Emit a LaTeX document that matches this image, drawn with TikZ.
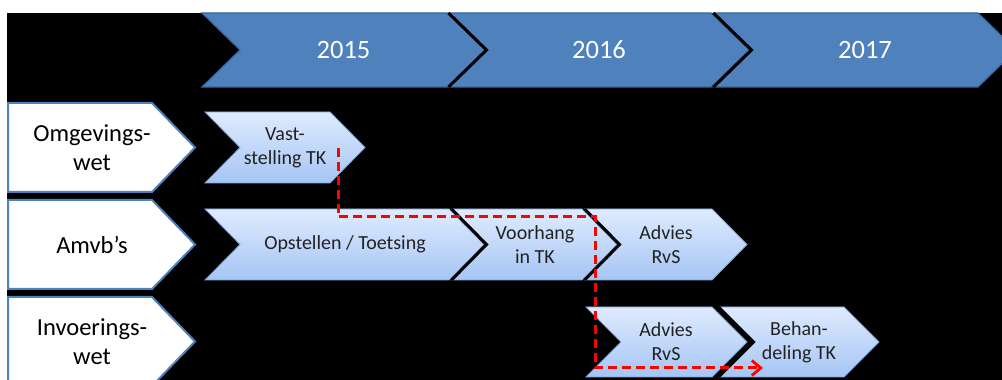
\documentclass[tikz,border=0pt]{standalone}
\usepackage{fontspec}
\setmainfont{Carlito}
\usetikzlibrary{arrows.meta}
\definecolor{yearblue}{HTML}{4F81BD}
\definecolor{yearedge}{HTML}{3A679E}
\definecolor{lighttop}{HTML}{DFEBFE}
\definecolor{lightbot}{HTML}{A5C5F4}
\definecolor{lightedge}{HTML}{7FA6DA}
\definecolor{labeledge}{HTML}{4F81BD}
\definecolor{textdark}{HTML}{222222}
\newcommand\chevpath[6]{% style, L, R, T, B, depth
  \path[#1] (#2,#4) -- (#3,#4) -- ({#3+#6},{(#4+#5)/2}) -- (#3,#5) -- (#2,#5) -- ({#2+#6},{(#4+#5)/2}) -- cycle;}
\newcommand\homepath[6]{% style, L, R, T, B, depth
  \path[#1] (#2,#4) -- (#3,#4) -- ({#3+#6},{(#4+#5)/2}) -- (#3,#5) -- (#2,#5) -- cycle;}
\newcommand\gapline[4]{% L, T, B, depth
  \draw[gapstroke] ({#1-0.5},#2) -- ({#1+#4-0.5},{(#2+#3)/2}) -- ({#1-0.5},#3);}
\tikzset{
  yearshape/.style={fill=yearblue, draw=yearedge, line width=1.2pt, line join=miter},
  yeartext/.style={text=white, inner sep=0pt, font=\fontsize{26.5}{32}\selectfont},
  stageshape/.style={top color=lighttop, bottom color=lightbot, draw=lightedge, line width=0.8pt},
  stagetext/.style={align=center, text=textdark, inner sep=0pt, font=\fontsize{20}{24}\selectfont},
  labelshape/.style={fill=white, draw=labeledge, line width=2pt},
  labeltext/.style={align=center, text=black, inner sep=0pt, font=\fontsize{24.5}{29.4}\selectfont},
  gapstroke/.style={draw=black, line width=3pt, line join=miter},
  redflow/.style={draw=red, line width=3pt, dash pattern=on 9pt off 5pt,
    -{Straight Barb[length=9pt,width=15pt,line width=2.8pt]}}
}
\begin{document}
\begin{tikzpicture}[x=1pt,y=1pt]
\useasboundingbox (0,0) rectangle (1002,380);
\fill[white] (0,0) rectangle (1002,380);
\fill[black] (7,0) rectangle (1002,367);
\clip (0,0) rectangle (1002,380);
% year chevrons
\chevpath{yearshape}{202}{447}{367}{293}{38}
\chevpath{yearshape}{449}{711}{367}{293}{38}
\chevpath{yearshape}{714}{978}{367}{293}{38}
\gapline{449}{367}{293}{38}
\gapline{714}{367}{293}{38}
\node[yeartext] (y2015) at (343.5,330) {2015};
\node[yeartext] (y2016) at (599,330) {2016};
\node[yeartext] (y2017) at (865,330) {2017};
% row labels
\homepath{labelshape}{8}{152}{277}{188}{43}
\homepath{labelshape}{8}{152}{180}{91}{43}
\homepath{labelshape}{8}{152}{83}{-6}{43}
\node[labeltext] (lomg) at (92,232.5) {Omgevings-\\wet};
\node[labeltext] (lamvb) at (92,135.5) {Amvb’s};
\node[labeltext] (linv) at (92,38.5) {Invoerings-\\wet};
% stage chevrons
\chevpath{stageshape}{205}{330}{268}{197}{35}
\chevpath{stageshape}{205}{449}{171}{100}{35}
\chevpath{stageshape}{452}{582}{171}{100}{35}
\chevpath{stageshape}{585}{712}{171}{100}{35}
\chevpath{stageshape}{586}{712}{73}{3}{35}
\chevpath{stageshape}{719}{844}{73}{3}{35}
\gapline{452}{171}{100}{35}
\gapline{585}{171}{100}{35}
\gapline{719}{73}{3}{35}
\node[stagetext] (vast) at (285,232.5) {Vast-\\stelling TK};
\node[stagetext] (opst) at (345,135.5) {Opstellen / Toetsing};
\node[stagetext] (voor) at (535,135.5) {Voorhang\\in TK};
\node[stagetext] (adv1) at (666,135.5) {Advies\\RvS};
\node[stagetext] (adv2) at (666,38) {Advies\\RvS};
\node[stagetext] (beh) at (799,38) {Behan-\\deling TK};
% red dashed flow
\coordinate (fs) at (338,232);
\coordinate (fm) at (595,163);
\coordinate (fe) at (763,12);
\draw[redflow] (fs) |- (fm) |- (fe);
\end{tikzpicture}
\end{document}
